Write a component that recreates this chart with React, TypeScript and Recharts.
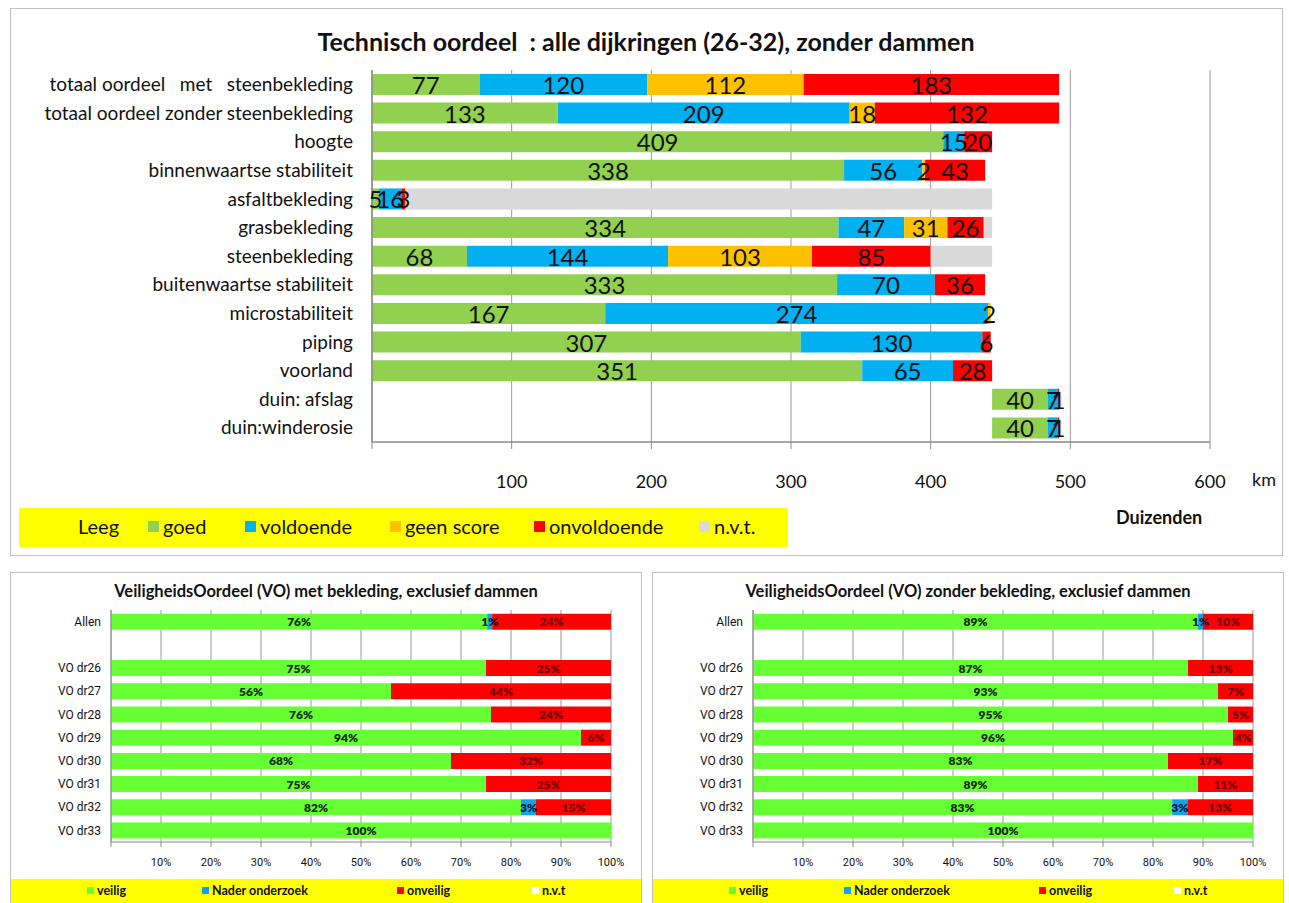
import React from "react";
import { BarChart, Bar, XAxis, YAxis, CartesianGrid, LabelList } from "recharts";

// ---- top chart: Technisch oordeel (km, duizenden) ----
const topCategories = [
  "totaal oordeel\u00A0\u00A0\u00A0met\u00A0\u00A0\u00A0steenbekleding",
  "totaal oordeel zonder steenbekleding",
  "hoogte",
  "binnenwaartse stabiliteit",
  "asfaltbekleding",
  "grasbekleding",
  "steenbekleding",
  "buitenwaartse stabiliteit",
  "microstabiliteit",
  "piping",
  "voorland",
  "duin: afslag",
  "duin:winderosie",
];
const leeg = [0, 0, 0, 0, 0, 0, 0, 0, 0, 0, 0, 444, 444];
const goed = [77, 133, 409, 338, 5, 334, 68, 333, 167, 307, 351, 40, 40];
const voldoende = [120, 209, 15, 56, 16, 47, 144, 70, 274, 130, 65, 7, 7];
const geenScore = [112, 18, 0, 2, 0, 31, 103, 0, 2, 0, 0, 0, 0];
const onvoldoende = [183, 132, 20, 43, 3, 26, 85, 36, 0, 6, 28, 1, 1];
const nvt = [0, 0, 0, 0, 420, 6, 44, 0, 0, 0, 0, 0, 0];
const kmTicks = [0, 100, 200, 300, 400, 500, 600];

const topSeries = [
  { key: "leeg", name: "Leeg", color: "none", values: leeg, label: false },
  { key: "goed", name: "goed", color: "#92D050", values: goed, label: true },
  { key: "voldoende", name: "voldoende", color: "#00B0F0", values: voldoende, label: true },
  { key: "geen", name: "geen score", color: "#FFC000", values: geenScore, label: true },
  { key: "onv", name: "onvoldoende", color: "#FF0000", values: onvoldoende, label: true },
  { key: "nvt", name: "n.v.t.", color: "#D9D9D9", values: nvt, label: false },
];
// legend item x offsets inside the yellow band
const topLegendX = [59, 129, 226, 371, 515, 680];

// ---- bottom charts: VeiligheidsOordeel ----
const voCategories = [
  "Allen", "", "VO dr26", "VO dr27", "VO dr28", "VO dr29",
  "VO dr30", "VO dr31", "VO dr32", "VO dr33",
];
const metVeilig = [76, 0, 75, 56, 76, 94, 68, 75, 82, 100];
const metNader = [1, 0, 0, 0, 0, 0, 0, 0, 3, 0];
const metOnveilig = [24, 0, 25, 44, 24, 6, 32, 25, 15, 0];
const metNvt = [0, 0, 0, 0, 0, 0, 0, 0, 0, 0];

const zonderVeilig = [89, 0, 87, 93, 95, 96, 83, 89, 83, 100];
const zonderNader = [1, 0, 0, 0, 0, 0, 0, 0, 3, 0];
const zonderOnveilig = [10, 0, 13, 7, 5, 4, 17, 11, 13, 0];
const zonderNvt = [0, 0, 0, 0, 0, 0, 0, 0, 0, 0];
const pctTicks = [0, 0.1, 0.2, 0.3, 0.4, 0.5, 0.6, 0.7, 0.8, 0.9, 1];

const voNames = ["veilig", "Nader onderzoek", "onveilig", "n.v.t"];
const voColors = ["#66FF33", "#12A3E3", "#FF0000", "#FFFFFF"];
const voLabelColors = ["#142608", "#06163a", "#6e0000", "#000"];
const voLegendX = [76, 191, 386, 521];

const topData = topCategories.map((name, i) => {
  const row: any = { name };
  topSeries.forEach((s) => (row[s.key] = s.values[i]));
  return row;
});

const buildVo = (veilig: number[], nader: number[], onveilig: number[], na: number[]) =>
  voCategories.map((name, i) => ({
    name,
    veilig: veilig[i],
    nader: nader[i],
    onveilig: onveilig[i],
    nvt: na[i],
  }));

const metData = buildVo(metVeilig, metNader, metOnveilig, metNvt);
const zonderData = buildVo(zonderVeilig, zonderNader, zonderOnveilig, zonderNvt);
const voKeys = ["veilig", "nader", "onveilig", "nvt"];

const LATO = "Lato, 'Open Sans', sans-serif";
const NARROW = "'Liberation Sans Narrow', 'Roboto', sans-serif";

const segLabel = (color: string, size: number, bold: boolean, suffix: string) => (props: any) => {
  const vb = props.viewBox || props;
  const { x, y, width, height } = vb;
  const value = props.value;
  if (!value) return null;
  return (
    <text
      x={x + width / 2}
      y={y + height / 2}
      textAnchor="middle"
      dominantBaseline="central"
      fill={color}
      fontSize={size}
      fontWeight={bold ? 800 : 400}
      fontFamily={LATO}
    >
      {value}
      {suffix}
    </text>
  );
};

function VoChart({ title, data, left }: { title: string; data: any[]; left: number }) {
  return (
    <div
      style={{
        position: "absolute",
        left,
        top: 572,
        width: 632,
        height: 340,
        border: "1.5px solid #BFBFBF",
        boxSizing: "border-box",
        background: "#fff",
      }}
    >
      <div
        style={{
          position: "absolute",
          left: 0,
          width: 630,
          top: 8,
          textAlign: "center",
          fontFamily: LATO,
          fontWeight: 700,
          fontSize: 16.5,
          color: "#111",
        }}
      >
        {title}
      </div>
      <BarChart
        width={630}
        height={331}
        data={data}
        layout="vertical"
        stackOffset="expand"
        barCategoryGap="16%"
        margin={{ top: 37, right: 30, bottom: 32, left: 0 }}
      >
        <CartesianGrid horizontal={false} stroke="#9a9a9a" />
        <XAxis
          type="number"
          domain={[0, 1]}
          ticks={pctTicks}
          tickFormatter={(v: number) => (v === 0 ? "" : `${Math.round(v * 100)}%`)}
          tick={{ fill: "#111", fontSize: 11, fontFamily: NARROW }}
          axisLine={{ stroke: "#8a8a8a" }}
          tickLine={{ stroke: "#8a8a8a" }}
          tickSize={5}
          tickMargin={11}
          height={30}
        />
        <YAxis
          type="category"
          dataKey="name"
          width={100}
          interval={0}
          tick={{ fill: "#111", fontSize: 12, fontFamily: NARROW }}
          axisLine={{ stroke: "#8a8a8a" }}
          tickLine={false}
          tickSize={4}
          tickMargin={6}
        />
        {voKeys.map((k, i) => (
          <Bar
            key={k}
            dataKey={k}
            name={voNames[i]}
            stackId="a"
            fill={voColors[i]}
            isAnimationActive={false}
          >
            {i < 3 && (
              <LabelList dataKey={k} content={segLabel(voLabelColors[i], 12, true, "%")} />
            )}
          </Bar>
        ))}
      </BarChart>
      <div
        style={{
          position: "absolute",
          left: 0,
          top: 306,
          width: 630,
          height: 26,
          background: "#FFFF00",
        }}
      >
        {voNames.map((n, i) => (
          <div
            key={n}
            style={{
              position: "absolute",
              left: voLegendX[i],
              top: 4,
              display: "flex",
              alignItems: "center",
              fontFamily: LATO,
              fontWeight: 700,
              fontSize: 12.5,
              color: "#111",
            }}
          >
            <span
              style={{
                display: "inline-block",
                width: 7,
                height: 7,
                background: voColors[i],
                marginRight: 3,
              }}
            />
            {n}
          </div>
        ))}
      </div>
    </div>
  );
}

export default function App() {
  return (
    <div
      style={{
        position: "absolute",
        left: 0,
        top: 0,
        width: 1289,
        height: 903,
        background: "#fff",
        overflow: "hidden",
      }}
    >
      {/* top panel */}
      <div
        style={{
          position: "absolute",
          left: 10,
          top: 8,
          width: 1273,
          height: 548,
          border: "1.5px solid #BFBFBF",
          boxSizing: "border-box",
        }}
      >
        <div
          style={{
            position: "absolute",
            left: 0,
            width: 1270,
            top: 17,
            textAlign: "center",
            fontFamily: LATO,
            fontWeight: 700,
            fontSize: 25,
            color: "#111",
          }}
        >
          Technisch oordeel &nbsp;: alle dijkringen (26-32), zonder dammen
        </div>
        <BarChart
          width={1270}
          height={545}
          data={topData}
          layout="vertical"
          barCategoryGap="14%"
          margin={{ top: 61, right: 71, bottom: 72, left: 0 }}
        >
          <CartesianGrid horizontal={false} stroke="#9a9a9a" />
          <XAxis
            type="number"
            domain={[0, 600]}
            ticks={kmTicks}
            tickFormatter={(v: number) => (v === 0 ? "" : String(v))}
            tick={{ fill: "#111", fontSize: 18, fontFamily: LATO }}
            axisLine={{ stroke: "#8a8a8a", strokeWidth: 1.5 }}
            tickLine={{ stroke: "#8a8a8a" }}
            tickSize={7}
            tickMargin={26}
            height={40}
          />
          <XAxis
            xAxisId="top"
            orientation="top"
            type="number"
            domain={[0, 600]}
            tick={false}
            tickLine={false}
            axisLine={{ stroke: "#A9B3C9", strokeWidth: 1.5 }}
            height={0}
          />
          <YAxis
            type="category"
            dataKey="name"
            width={361}
            interval={0}
            tick={{ fill: "#111", fontSize: 19, fontFamily: LATO }}
            axisLine={{ stroke: "#8a8a8a", strokeWidth: 1.5 }}
            tickLine={false}
            tickSize={0}
            tickMargin={19}
          />
          <YAxis
            yAxisId="right"
            orientation="right"
            type="category"
            dataKey="name"
            width={0}
            tick={false}
            tickLine={false}
            axisLine={{ stroke: "#A9B3C9", strokeWidth: 1.5 }}
          />
          {topSeries.map((s) => (
            <Bar
              key={s.key}
              dataKey={s.key}
              name={s.name}
              stackId="t"
              fill={s.color}
              isAnimationActive={false}
            >
              {s.label && <LabelList dataKey={s.key} content={segLabel("#111", 24, false, "")} />}
            </Bar>
          ))}
        </BarChart>
        <div
          style={{
            position: "absolute",
            left: 1241,
            top: 459,
            fontFamily: LATO,
            fontSize: 18,
            color: "#111",
          }}
        >
          km
        </div>
        <div
          style={{
            position: "absolute",
            left: 1105,
            top: 497,
            fontFamily: LATO,
            fontWeight: 700,
            fontSize: 18,
            color: "#111",
          }}
        >
          Duizenden
        </div>
        <div
          style={{
            position: "absolute",
            left: 8,
            top: 499,
            width: 769,
            height: 39,
            background: "#FFFF00",
            fontFamily: LATO,
            fontSize: 20,
            color: "#111",
          }}
        >
          {topSeries.map((s, i) => (
            <div
              key={s.key}
              style={{
                position: "absolute",
                left: topLegendX[i],
                top: 6,
                display: "flex",
                alignItems: "center",
              }}
            >
              {s.color !== "none" && (
                <span
                  style={{
                    display: "inline-block",
                    width: 11,
                    height: 11,
                    background: s.color,
                    marginRight: 4,
                  }}
                />
              )}
              {s.name}
            </div>
          ))}
        </div>
      </div>

      <VoChart
        title="VeiligheidsOordeel (VO) met bekleding, exclusief dammen"
        data={metData}
        left={10}
      />
      <VoChart
        title="VeiligheidsOordeel (VO) zonder bekleding, exclusief dammen"
        data={zonderData}
        left={652}
      />
    </div>
  );
}
